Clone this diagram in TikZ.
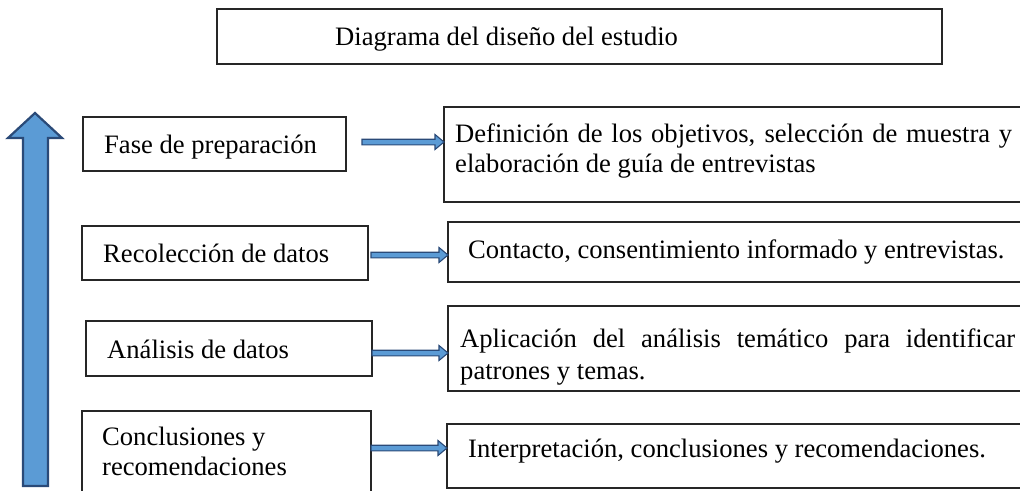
\documentclass[tikz,border=0pt]{standalone}
\usepackage{fontspec}
\setmainfont{Liberation Serif}
\usetikzlibrary{calc}
\definecolor{arrowfill}{HTML}{5B9BD5}
\definecolor{arrowline}{HTML}{2A4A78}
\definecolor{boxline}{HTML}{262626}
\begin{document}
\begin{tikzpicture}[x=1pt,y=-1pt,
  box/.style={draw=boxline, line width=1.3pt, anchor=north west, inner sep=0pt, outer sep=0pt},
  txt/.style={anchor=base west, inner sep=0pt, font=\fontsize{26.6}{30.6}\selectfont},
  conn/.style={draw=arrowline, fill=arrowfill, line width=1.1pt, line join=miter,
    to path={let \p1=(\tikztostart), \p2=(\tikztotarget) in
      (\x1,{\y1+2.8pt}) -- ({\x2-9pt},{\y1+2.8pt}) -- ({\x2-9pt},{\y1+7.5pt}) -- (\x2,\y1)
      -- ({\x2-9pt},{\y1-7.5pt}) -- ({\x2-9pt},{\y1-2.8pt}) -- (\x1,{\y1-2.8pt}) -- cycle}},
  bigarrow/.style={draw=arrowline, fill=arrowfill, line width=2.2pt, line join=miter}
]
\useasboundingbox (0,0) rectangle (1020,490);
\clip (0,0) rectangle (1020,490);

% title
\node[box, minimum width=725pt, minimum height=55pt] (title) at (217,9) {};
\node[txt] (titletext) at (335,45) {Diagrama del diseño del estudio};

% big upward arrow
\draw[bigarrow] (35,113) -- (62,138) -- (48,138) -- (48,486) -- (23,486) -- (23,138) -- (8,138) -- cycle;

% left boxes
\node[box, minimum width=263pt, minimum height=54pt] (fase) at (83,117) {};
\node[box, minimum width=286pt, minimum height=54pt] (rec) at (82,226) {};
\node[box, minimum width=286pt, minimum height=55pt] (ana) at (86,321) {};
\node[box, minimum width=289pt, minimum height=90pt] (con) at (82,411) {};

\node[txt] (fasetext) at (104,153) {Fase de preparación};
\node[txt] (rectext) at (103,262) {Recolección de datos};
\node[txt] (anatext) at (107,358) {Análisis de datos};
\node[txt] (contexta) at (102,445) {Conclusiones y};
\node[txt] (contextb) at (102,475) {recomendaciones};

% right boxes
\node[box, minimum width=616pt, minimum height=95pt] (r1) at (444,107) {};
\node[box, minimum width=612pt, minimum height=60pt] (r2) at (448,222) {};
\node[box, minimum width=612pt, minimum height=85pt] (r3) at (448,306) {};
\node[box, minimum width=613pt, minimum height=64pt] (r4) at (447,424) {};

\node[txt] (r1a) at (455,142) {\makebox[557pt][s]{Definición de los objetivos, selección de muestra y}};
\node[txt] (r1b) at (455,172) {elaboración de guía de entrevistas};
\node[txt] (r2a) at (468,258) {Contacto, consentimiento informado y entrevistas.};
\node[txt] (r3a) at (460,347) {\makebox[555pt][s]{Aplicación del análisis temático para identificar}};
\node[txt] (r3b) at (460,379) {patrones y temas.};
\node[txt] (r4a) at (468,457) {Interpretación, conclusiones y recomendaciones.};

% connectors
\coordinate (s1) at ([xshift=16pt,yshift=2pt]fase.east);
\coordinate (s2) at ([xshift=3pt,yshift=-2pt]rec.east);
\coordinate (s3) at ([yshift=-4.5pt]ana.east);
\coordinate (s4) at ([yshift=8pt]con.east);
\draw[conn] (s1) to (s1 -| r1.west);
\draw[conn] (s2) to (s2 -| r2.west);
\draw[conn] (s3) to (s3 -| r3.west);
\draw[conn] (s4) to (s4 -| r4.west);
\end{tikzpicture}
\end{document}
